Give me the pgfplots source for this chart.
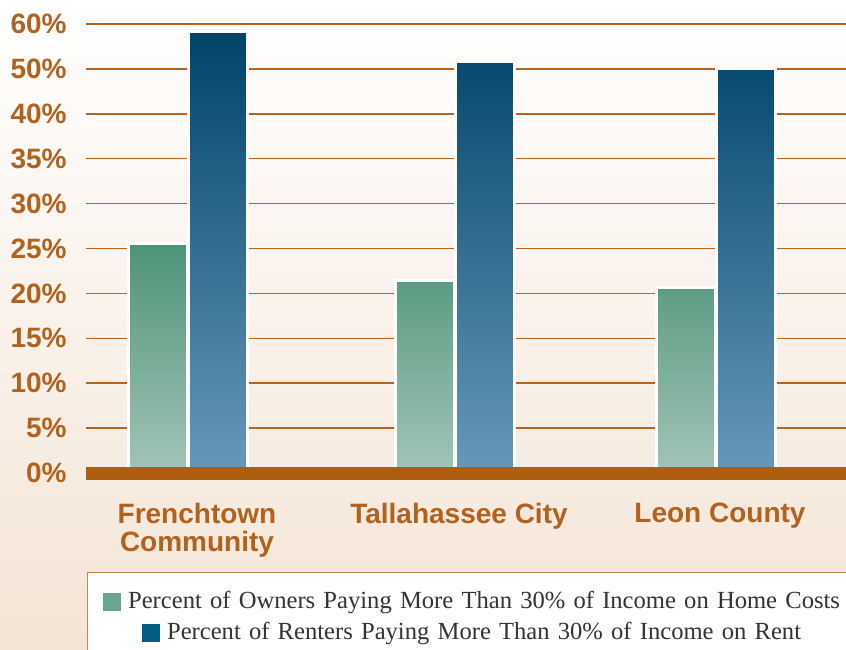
\documentclass[border=0pt]{standalone}
\usepackage{fontspec}
\setmainfont{Liberation Serif}
\setsansfont{Liberation Sans}
\usepackage{pgfplots}
\pgfplotsset{compat=1.18}

\definecolor{brn}{HTML}{B2621C}
\definecolor{gridc}{HTML}{B8641E}
\definecolor{basec}{HTML}{AF5E10}
\definecolor{owntop}{HTML}{4E9479}
\definecolor{ownbot}{HTML}{A2C5B7}
\definecolor{rentop}{HTML}{00446A}
\definecolor{renmid}{HTML}{00688F}
\definecolor{renbot}{HTML}{6898B8}
\definecolor{bgmid}{HTML}{FCF8F4}
\definecolor{bgbot}{HTML}{F4E4D5}
\definecolor{legbox}{HTML}{C8874A}
\definecolor{owncol}{HTML}{6AA590}
\definecolor{rencol}{HTML}{005E84}
\definecolor{legtext}{HTML}{333333}

% x positions are the pixel columns of the group centres
\pgfplotstableread{
x      owners renters
187.5  25.4   49.1
455.2  21.3   45.7
715.9  20.6   44.9
}\housing

\begin{document}
\begin{tikzpicture}
\useasboundingbox (0,0) rectangle (423pt,324.5pt);
\shade[top color=white, middle color=bgmid, bottom color=bgbot] (0,0) rectangle (423pt,324.5pt);
\begin{axis}[
    at={(43pt,88pt)}, anchor=south west,
    scale only axis,
    width=380pt, height=224.5pt,
    xmin=86, xmax=846,
    ymin=0, ymax=50,
    clip=false,
    ybar, bar width=28.5pt,
    axis line style={draw=none},
    tick style={draw=none},
    ytick={0,5,...,50},
    yticklabels={0\%,5\%,10\%,15\%,20\%,25\%,30\%,35\%,40\%,50\%,60\%},
    xtick={197,459,720},
    xticklabels={{Frenchtown\\Community},{Tallahassee City},{Leon County}},
    ymajorgrids=true,
    grid style={gridc, line width=0.75pt},
    tick label style={font=\sffamily\bfseries\fontsize{14}{14}\selectfont, text=brn},
    yticklabel style={anchor=east, inner sep=0pt, xshift=-9.5pt},
    xticklabel style={anchor=north, align=center, inner sep=0pt, yshift=-10.5pt},
    legend image code/.code={},
    legend style={at={(0.0013,-0.2205)}, anchor=north west,
        draw=legbox, line width=0.6pt, fill=white,
        inner xsep=2pt, inner ysep=9pt, row sep=3.5pt,
        font=\fontsize{12.3}{15.5}\selectfont, text=legtext,
        nodes={text width=380pt, align=center, inner sep=0pt,
               text height=9pt, text depth=3pt}},
]
% white halo that cuts the grid lines around each bar
\addplot[forget plot, bar shift=-15pt, fill=white, draw=white, line width=2.5pt]
    table[x=x, y=owners] {\housing};
\addplot[forget plot, bar shift=15pt, fill=white, draw=white, line width=2.5pt]
    table[x=x, y=renters] {\housing};
\addplot[bar shift=-15pt, top color=owntop, bottom color=ownbot, draw=white, line width=0.5pt]
    table[x=x, y=owners] {\housing};
\addlegendentry{\textcolor{owncol}{\rule[-1pt]{9pt}{9pt}}\hspace{3.5pt}Percent of Owners Paying More Than 30\% of Income on Home Costs}
\addplot[bar shift=15pt, top color=rentop, middle color=renmid, bottom color=renbot, draw=white, line width=0.5pt]
    table[x=x, y=renters] {\housing};
\addlegendentry{\textcolor{rencol}{\rule[-1pt]{9pt}{9pt}}\hspace{3.5pt}Percent of Renters Paying More Than 30\% of Income on Rent}
\draw[basec, line width=6.5pt] (axis cs:86,0) -- (axis cs:870,0);
\end{axis}
\end{tikzpicture}
\end{document}
